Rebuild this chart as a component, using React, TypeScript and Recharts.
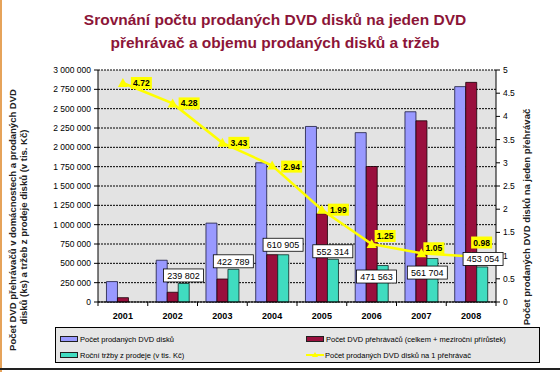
import React from "react";
import {
  ComposedChart,
  Bar,
  Line,
  XAxis,
  YAxis,
  CartesianGrid,
  LabelList,
} from "recharts";

const years = ["2001", "2002", "2003", "2004", "2005", "2006", "2007", "2008"];
const discsSold = [264000, 540000, 1020000, 1800000, 2270000, 2190000, 2460000, 2785000];
const playersTotal = [56000, 126000, 297000, 612000, 1141000, 1752000, 2343000, 2840000];
const yearlyRevenue = [0, 239802, 422789, 610905, 552314, 471563, 561704, 453054];
const discsPerPlayer = [4.72, 4.28, 3.43, 2.94, 1.99, 1.25, 1.05, 0.98];
const leftTicks = [0, 250000, 500000, 750000, 1000000, 1250000, 1500000, 1750000, 2000000, 2250000, 2500000, 2750000, 3000000];
const rightTicks = [0, 0.5, 1, 1.5, 2, 2.5, 3, 3.5, 4, 4.5, 5];

// label boxes were nudged by hand in the original slide
const ratioNudge = [[8, 0], [6, 0], [6, 0], [9, 1], [6, 0], [3, -8], [2, -5], [0, -14]];
const revenueNudge = [[0, 0], [0, 0], [0, 0], [0, -2], [0, 0], [-6, 19], [-5, 22], [1, 0]];

const W = 560;
const H = 372;
const PLOT_LEFT = 98;
const RIGHT_AXIS_W = 64;
const PLOT_TOP = 70;
const PLOT_BOTTOM = 302;
const PLOT_W = W - PLOT_LEFT - RIGHT_AXIS_W;
const CAT_GAP = 0.17;
const BAR_W = ((PLOT_W / years.length) * (1 - 2 * CAT_GAP)) / 3;

const FONT = '"Liberation Sans", Arial, sans-serif';

const data = years.map((year, i) => ({
  year,
  discs: discsSold[i],
  players: playersTotal[i],
  revenue: yearlyRevenue[i],
  ratio: discsPerPlayer[i],
}));

const fmtThousands = (v: number) =>
  String(v).replace(/\B(?=(\d{3})+(?!\d))/g, " ");

function YearTick(props: any) {
  const { x, payload, index } = props;
  const half = PLOT_W / years.length / 2;
  return (
    <g>
      <line x1={x - half} x2={x - half} y1={PLOT_BOTTOM} y2={PLOT_BOTTOM + 4} stroke="#000" />
      {index === years.length - 1 && (
        <line x1={x + half} x2={x + half} y1={PLOT_BOTTOM} y2={PLOT_BOTTOM + 4} stroke="#000" />
      )}
      <text
        x={x}
        y={PLOT_BOTTOM + 17}
        textAnchor="middle"
        fontWeight="bold"
        fontSize={9}
        fill="#000"
        fontFamily={FONT}
      >
        {payload.value}
      </text>
    </g>
  );
}

function Triangle(props: any) {
  const { cx, cy } = props;
  if (cx == null || cy == null) return null;
  return (
    <path
      d={`M${cx},${cy - 5} L${cx + 5},${cy + 4} L${cx - 5},${cy + 4} Z`}
      fill="#ffff00"
    />
  );
}

function RatioLabel(props: any) {
  const { x, y, value, index } = props;
  const [dx, dy] = ratioNudge[index] || [6, 0];
  const bx = x + dx;
  const by = y + dy - 6;
  return (
    <g>
      <rect x={bx} y={by} width={21} height={12} fill="#ffff00" />
      <text
        x={bx + 10.5}
        y={by + 9}
        textAnchor="middle"
        fontSize={8.5}
        fontWeight="bold"
        fill="#000"
        fontFamily={FONT}
      >
        {Number(value).toFixed(2)}
      </text>
    </g>
  );
}

function RevenueLabel(props: any) {
  const { x, y, value, index } = props;
  if (!value) return null;
  const [dx, dy] = revenueNudge[index] || [0, 0];
  const cx = x + BAR_W + dx;
  const cy = y - 8 + dy;
  const w = 40;
  const h = 13;
  return (
    <g>
      <rect x={cx - w / 2} y={cy - h / 2} width={w} height={h} fill="#fff" stroke="#000" strokeWidth={0.8} />
      <text
        x={cx}
        y={cy + 3.5}
        textAnchor="middle"
        fontSize={9}
        fill="#000"
        fontFamily={FONT}
      >
        {fmtThousands(value)}
      </text>
    </g>
  );
}

const legendItems = [
  { label: "Počet prodaných DVD disků", color: "#9999ff", x: 4, y: 6 },
  { label: "Počet DVD přehrávačů (celkem + meziroční přírůstek)", color: "#990f3d", x: 250, y: 6 },
  { label: "Roční tržby z prodeje (v tis. Kč)", color: "#40dcc0", x: 4, y: 22 },
  { label: "Počet prodaných DVD disků na 1 přehrávač", color: "line", x: 250, y: 22 },
];

export default function App() {
  return (
    <div
      style={{
        position: "relative",
        width: W,
        height: H,
        background: "#fff",
        fontFamily: FONT,
        overflow: "hidden",
      }}
    >
      <style>{`body{margin:0}`}</style>
      <div style={{ position: "absolute", left: 0, top: 0, width: 2, height: H, background: "#e6a35a" }} />
      <div
        style={{
          position: "absolute",
          left: 0,
          top: 8,
          width: W - 10,
          textAlign: "center",
          color: "#8c1538",
          fontWeight: "bold",
          fontSize: 15.5,
          lineHeight: "23px",
        }}
      >
        Srovnání počtu prodaných DVD disků na jeden DVD
        <br />
        přehrávač a objemu prodaných disků a tržeb
      </div>

      <ComposedChart
        width={W}
        height={H}
        data={data}
        margin={{ top: PLOT_TOP, right: 0, bottom: H - PLOT_BOTTOM - 20, left: 0 }}
        barCategoryGap={`${CAT_GAP * 100}%`}
        barGap={0}
        style={{ position: "absolute", left: 0, top: 0 }}
      >
        <CartesianGrid
          yAxisId="l"
          vertical={false}
          stroke="#000"
          strokeDasharray="2 1"
          fill="#e3e3e3"
        />
        <XAxis
          dataKey="year"
          height={20}
          tickLine={false}
          axisLine={{ stroke: "#000" }}
          interval={0}
          tick={<YearTick />}
        />
        <YAxis
          yAxisId="l"
          width={PLOT_LEFT}
          domain={[0, 3000000]}
          ticks={leftTicks}
          interval={0}
          tickFormatter={fmtThousands}
          tickSize={4}
          tickMargin={3}
          axisLine={{ stroke: "#000" }}
          tickLine={{ stroke: "#000" }}
          tick={{ fontSize: 8.5, fill: "#000", fontFamily: FONT }}
        />
        <YAxis
          yAxisId="r"
          orientation="right"
          width={RIGHT_AXIS_W}
          domain={[0, 5]}
          ticks={rightTicks}
          interval={0}
          tickSize={4}
          tickMargin={3}
          axisLine={{ stroke: "#000" }}
          tickLine={{ stroke: "#000" }}
          tick={{ fontSize: 8.5, fill: "#000", fontFamily: FONT }}
        />
        <Bar yAxisId="l" dataKey="discs" fill="#9999ff" stroke="#1a1a40" strokeWidth={0.8} isAnimationActive={false} />
        <Bar yAxisId="l" dataKey="players" fill="#990f3d" stroke="#1a0008" strokeWidth={0.8} isAnimationActive={false} />
        <Bar yAxisId="l" dataKey="revenue" fill="#40dcc0" stroke="#0a2a24" strokeWidth={0.8} isAnimationActive={false} />
        <Line
          yAxisId="r"
          dataKey="ratio"
          stroke="#ffff00"
          strokeWidth={2.5}
          dot={<Triangle />}
          activeDot={false}
          isAnimationActive={false}
        >
          <LabelList dataKey="ratio" content={<RatioLabel />} />
        </Line>
        {/* invisible carrier so the revenue boxes sit on top of the yellow line */}
        <Line
          yAxisId="l"
          dataKey="revenue"
          stroke="none"
          dot={false}
          activeDot={false}
          isAnimationActive={false}
        >
          <LabelList dataKey="revenue" content={<RevenueLabel />} />
        </Line>
      </ComposedChart>

      {/* left axis title, two rotated lines */}
      <div
        style={{
          position: "absolute",
          left: 13 - 150,
          top: 220 - 6,
          width: 300,
          textAlign: "center",
          transform: "rotate(-90deg)",
          fontSize: 9.5,
          fontWeight: "bold",
          color: "#222",
          whiteSpace: "nowrap",
          lineHeight: "12px",
        }}
      >
        Počet DVD přehrávačů v domácnostech a prodaných DVD
      </div>
      <div
        style={{
          position: "absolute",
          left: 24 - 150,
          top: 227 - 6,
          width: 300,
          textAlign: "center",
          transform: "rotate(-90deg)",
          fontSize: 9.5,
          fontWeight: "bold",
          color: "#222",
          whiteSpace: "nowrap",
          lineHeight: "12px",
        }}
      >
        disků (ks) a tržeb z prodeje disků (v tis. Kč)
      </div>
      <div
        style={{
          position: "absolute",
          left: 527 - 150,
          top: 217 - 6,
          width: 300,
          textAlign: "center",
          transform: "rotate(-90deg)",
          fontSize: 9.5,
          fontWeight: "bold",
          color: "#222",
          whiteSpace: "nowrap",
          lineHeight: "12px",
        }}
      >
        Počet prodaných DVD disků na jeden přehrávač
      </div>

      {/* legend */}
      <div
        style={{
          position: "absolute",
          left: 55,
          top: 327,
          width: 485,
          height: 36,
          border: "1px solid #000",
          background: "#e6e6e6",
          boxSizing: "border-box",
        }}
      >
        {legendItems.map((it) => (
          <div
            key={it.label}
            style={{
              position: "absolute",
              left: it.x,
              top: it.y,
              height: 10,
              display: "flex",
              alignItems: "center",
              fontSize: 7.5,
              color: "#000",
              whiteSpace: "nowrap",
            }}
          >
            {it.color === "line" ? (
              <svg width={18} height={8} style={{ marginRight: 1 }}>
                <line x1={0} x2={18} y1={4} y2={4} stroke="#ffff00" strokeWidth={2} />
                <path d="M9,1 L12,6 L6,6 Z" fill="#ffff00" />
              </svg>
            ) : (
              <div
                style={{
                  width: 16,
                  height: 4,
                  background: it.color,
                  border: "1px solid #202020",
                  marginRight: 2,
                }}
              />
            )}
            {it.label}
          </div>
        ))}
      </div>
      <div style={{ position: "absolute", left: 0, top: 368, width: W, height: 2, background: "#222" }} />
    </div>
  );
}
